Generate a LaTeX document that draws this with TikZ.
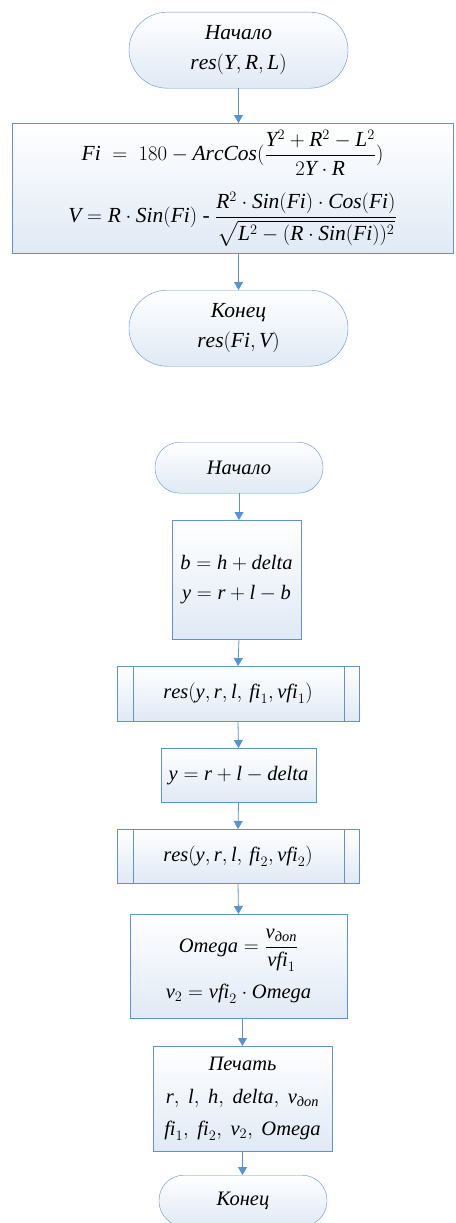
\documentclass[tikz,border=0pt]{standalone}
\usepackage{amsmath}
\usepackage{fontspec}
\setmainfont{Liberation Serif}
\usetikzlibrary{arrows.meta}
\definecolor{bord}{RGB}{98,146,205}
\definecolor{arrc}{RGB}{84,148,212}
\definecolor{fillb}{RGB}{224,233,245}
\tikzset{
  blk/.style={draw=bord,top color=white,bottom color=fillb,inner sep=0pt,
    align=center,anchor=north,font=\itshape\fontsize{20.5}{34}\selectfont},
  big/.style={font=\itshape\fontsize{21.5}{30}\selectfont},
  term/.style={blk,rounded corners=#1},
  arr/.style={draw=arrc,thick,-{Triangle[width=9pt,length=8pt]}}
}
\begin{document}
\begin{tikzpicture}[x=1pt,y=-1pt]
\useasboundingbox (0,0) rectangle (455,1223);
\node[term=38pt,minimum width=219pt,minimum height=76pt,big] (t1) at (238.5,12)
  {Начало\\$\mathit{res}(\mathit{Y},\mathit{R},\mathit{L})$};
\node[blk,minimum width=441pt,minimum height=130pt,big] (f) at (232.5,123)
  {$\mathit{Fi}\;=\;180-\mathit{ArcCos}(\dfrac{\mathit{Y}^2+\mathit{R}^2-\mathit{L}^2}{2\mathit{Y}\cdot\mathit{R}})$\\[16pt]
   $\mathit{V}=\mathit{R}\cdot\mathit{Sin}(\mathit{Fi})$ - $\dfrac{\mathit{R}^2\cdot\mathit{Sin}(\mathit{Fi})\cdot\mathit{Cos}(\mathit{Fi})}{\sqrt{\mathit{L}^2-(\mathit{R}\cdot\mathit{Sin}(\mathit{Fi}))^2}}$};
\node[term=38pt,minimum width=219pt,minimum height=76pt,big] (t2) at (238.5,290)
  {Конец\\$\mathit{res}(\mathit{Fi},\mathit{V})$};
\draw[arr] (t1.south) -- (t1.south |- f.north);
\draw[arr] (t1.south |- f.south) -- (t2.north);

\node[term=25pt,minimum width=168pt,minimum height=51pt] (st) at (239,442) {Начало};
\node[blk,minimum width=129pt,minimum height=119pt] (b1) at (236.5,520)
  {$\mathit{b}=\mathit{h}+\mathit{delta}$\\[-4pt]$\mathit{y}=\mathit{r}+\mathit{l}-\mathit{b}$};
\node[blk,minimum width=242pt,minimum height=55pt] (s1) at (238,666)
  {$\mathit{res}(\mathit{y},\mathit{r},\mathit{l},\,\mathit{fi}_1,\mathit{vfi}_1)$};
\node[blk,minimum width=155pt,minimum height=54pt] (b2) at (238.5,748)
  {$\mathit{y}=\mathit{r}+\mathit{l}-\mathit{delta}$};
\node[blk,minimum width=242pt,minimum height=54pt] (s2) at (238,829)
  {$\mathit{res}(\mathit{y},\mathit{r},\mathit{l},\,\mathit{fi}_2,\mathit{vfi}_2)$};
\node[blk,minimum width=217pt,minimum height=104pt] (b3) at (238.5,914)
  {$\mathit{Omega}=\dfrac{\mathit{v}_{\text{доп}}}{\mathit{vfi}_1}$\\[12pt]$\mathit{v}_2=\mathit{vfi}_2\cdot\mathit{Omega}$};
\node[blk,minimum width=179pt,minimum height=105pt] (pr) at (242.5,1046)
  {Печать\\[-1pt]$\mathit{r},\ \mathit{l},\ \mathit{h},\ \mathit{delta},\ \mathit{v}_{\text{доп}}$\\[-2pt]$\mathit{fi}_1,\ \mathit{fi}_2,\ \mathit{v}_2,\ \mathit{Omega}$};
\node[term=25pt,minimum width=168pt,minimum height=51pt] (en) at (243,1175) {Конец};
\draw[bord] ([xshift=16pt]s1.north west) -- ([xshift=16pt]s1.south west);
\draw[bord] ([xshift=-15pt]s1.north east) -- ([xshift=-15pt]s1.south east);
\draw[bord] ([xshift=16pt]s2.north west) -- ([xshift=16pt]s2.south west);
\draw[bord] ([xshift=-15pt]s2.north east) -- ([xshift=-15pt]s2.south east);
\draw[arr] (st.south) -- (st.south |- b1.north);
\draw[arr] (st.south |- b1.south) -- (s1.north);
\draw[arr] (s1.south) -- (b2.north);
\draw[arr] (b2.south) -- (s2.north);
\draw[arr] (s2.south) -- (b3.north);
\draw[arr] (pr.south |- b3.south) -- (pr.north);
\draw[arr] (pr.south) -- (pr.south |- en.north);
\end{tikzpicture}
\end{document}
